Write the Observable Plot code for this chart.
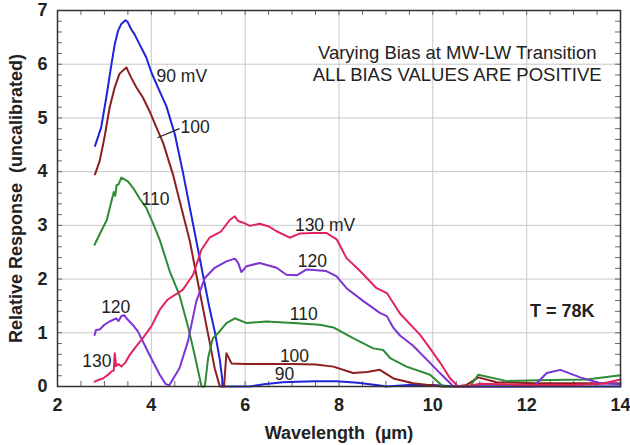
<!DOCTYPE html>
<html><head><meta charset="utf-8">
<script src="https://cdn.jsdelivr.net/npm/d3@7"></script>
<script src="https://cdn.jsdelivr.net/npm/@observablehq/plot@0.6"></script>
<style>body{margin:0;background:#fff} svg{display:block}</style>
</head><body><div id="chart"></div>
<script>
// ---- data ----
const biasNames = ["90", "100", "110", "120", "130"];
const biasColors = ["#2222d8", "#8e1f1f", "#2e8b35", "#7b33d6", "#e3245c"];

const x90 = [2.80,2.93,3.04,3.15,3.22,3.29,3.36,3.45,3.50,3.57,3.64,3.75,3.89,4.00,4.14,4.32,4.50,4.67,4.82,4.96,5.10,5.24,5.35,5.46,5.53,5.90,6.10,6.40,6.80,7.10,7.50,7.95,8.40,8.87,9.00,9.50,10.00,10.50,11.00,12.00,13.00,14.00];
const y90 = [4.48,4.82,5.38,6.00,6.37,6.62,6.75,6.82,6.78,6.65,6.56,6.37,6.13,5.85,5.57,5.22,4.70,4.00,3.33,2.71,2.08,1.46,1.03,0.50,0.00,0.00,0.00,0.04,0.08,0.09,0.10,0.10,0.07,0.02,0.00,0.03,0.03,0.00,0.00,0.00,0.00,0.00];

const x100 = [2.80,2.90,3.00,3.11,3.22,3.32,3.43,3.47,3.50,3.57,3.68,3.82,3.96,4.11,4.25,4.46,4.64,4.82,4.96,5.10,5.24,5.35,5.46,5.55,5.60,5.71,6.00,6.50,7.00,7.50,7.88,8.30,8.60,8.87,9.16,9.58,9.90,10.20,10.50,10.72,10.97,11.36,12.15,13.00,14.00];
const y100 = [3.95,4.20,4.63,5.19,5.57,5.82,5.91,5.94,5.88,5.75,5.57,5.38,5.13,4.82,4.54,3.95,3.33,2.71,2.08,1.46,0.84,0.34,0.00,0.00,0.62,0.43,0.42,0.42,0.42,0.41,0.37,0.25,0.27,0.31,0.15,0.06,0.03,0.00,0.00,0.03,0.17,0.08,0.06,0.06,0.06];

const x110 = [2.79,2.93,3.05,3.15,3.20,3.23,3.26,3.30,3.36,3.42,3.50,3.61,3.75,3.89,4.03,4.18,4.39,4.60,4.78,4.92,5.07,5.14,5.21,5.31,5.42,5.60,5.78,6.03,6.45,7.02,7.59,7.88,8.30,8.73,8.94,9.09,9.44,9.94,10.22,10.79,10.97,11.58,12.50,13.28,14.00];
const y110 = [2.64,2.89,3.10,3.45,3.62,3.55,3.75,3.76,3.89,3.86,3.82,3.70,3.50,3.33,3.05,2.73,2.15,1.70,1.12,0.60,0.00,0.00,0.53,0.90,0.99,1.18,1.27,1.18,1.21,1.18,1.15,1.10,0.90,0.71,0.68,0.53,0.37,0.22,0.00,0.00,0.22,0.10,0.12,0.13,0.21];

const x120 = [2.79,2.82,2.90,3.00,3.11,3.25,3.30,3.36,3.42,3.47,3.60,3.71,3.87,4.03,4.18,4.30,4.38,4.60,4.78,4.96,5.14,5.35,5.60,5.78,5.85,5.92,6.03,6.31,6.67,6.88,7.10,7.31,7.73,7.95,8.16,8.52,8.87,9.02,9.16,9.30,9.58,9.94,10.15,10.44,12.14,12.43,12.72,13.14,13.57,14.00];
const y120 = [0.96,1.05,1.06,1.15,1.21,1.27,1.22,1.31,1.33,1.27,1.15,1.03,0.75,0.47,0.22,0.05,0.02,0.34,0.84,1.59,2.02,2.21,2.33,2.38,2.30,2.13,2.24,2.30,2.21,2.08,2.07,2.18,2.15,2.05,1.83,1.59,1.37,1.31,1.09,0.95,0.76,0.44,0.25,0.00,0.00,0.25,0.31,0.17,0.06,0.04];

const x130 = [2.79,2.90,2.97,3.08,3.15,3.20,3.22,3.25,3.30,3.36,3.45,3.54,3.68,3.82,4.00,4.18,4.35,4.53,4.67,4.89,5.07,5.24,5.49,5.67,5.78,5.85,5.96,6.10,6.31,6.50,6.67,6.95,7.17,7.45,7.73,7.95,8.16,8.45,8.80,9.02,9.30,9.73,9.94,10.15,10.37,10.54,10.72,11.00,11.50,12.00,13.00,13.60,14.00];
const y130 = [0.09,0.13,0.15,0.22,0.28,0.30,0.62,0.38,0.42,0.37,0.45,0.59,0.75,0.90,1.12,1.43,1.62,1.72,1.80,2.08,2.55,2.77,2.89,3.10,3.17,3.08,3.05,2.99,3.03,2.98,2.89,2.77,2.85,2.86,2.86,2.74,2.39,2.15,1.83,1.74,1.36,0.96,0.71,0.45,0.15,0.00,0.00,0.05,0.04,0.03,0.03,0.05,0.13];

const xTicks = [2, 4, 6, 8, 10, 12, 14];
const yTicks = [0, 1, 2, 3, 4, 5, 6, 7];

const curveLabels = ["90 mV", "100", "110", "120", "130", "130 mV", "120", "110", "100", "90"];
const curveLabelX = [4.11, 4.62, 3.79, 2.93, 2.53, 7.06, 7.12, 6.95, 6.74, 6.63];
const curveLabelY = [5.78, 4.83, 3.49, 1.47, 0.47, 3.00, 2.32, 1.34, 0.56, 0.22];

const leaderX = [4.13, 4.60];
const leaderY = [4.63, 4.80];

const noteLines = ["Varying Bias at MW-LW Transition", "ALL BIAS VALUES ARE POSITIVE"];
const noteX = [10.52, 10.52];
const noteY = [6.21, 5.80];
const tempNote = "T = 78K";

// ---- build ----
const seriesX = [x90, x100, x110, x120, x130];
const seriesY = [y90, y100, y110, y120, y130];
const rows = biasNames.flatMap((b, k) => seriesX[k].map((x, i) => ({bias: b, x, y: seriesY[k][i]})));
const labelRows = curveLabels.map((t, i) => ({t, x: curveLabelX[i], y: curveLabelY[i]}));
const noteRows = noteLines.map((t, i) => ({t, x: noteX[i], y: noteY[i]}));

const W = 630, H = 445, mL = 57, mT = 10, mR = 10, mB = 59;
const innerW = W - mL - mR, innerH = H - mT - mB;
const minorX = d3.range(2, 14.001, 0.5);
const minorY = d3.range(0, 7.001, 0.2);
const font = "'Liberation Sans', Arial, sans-serif";

const chart = Plot.plot({
  width: W, height: H,
  marginLeft: mL, marginTop: mT, marginRight: mR, marginBottom: mB,
  style: {fontFamily: font, fontSize: "18px", fontWeight: "bold", background: "#fff", color: "#222"},
  x: {domain: [2, 14]},
  y: {domain: [0, 7]},
  color: {domain: biasNames, range: biasColors},
  marks: [
    Plot.ruleX(xTicks.slice(1, -1), {stroke: "#c8c8c8", strokeWidth: 1}),
    Plot.ruleY(yTicks.slice(1, -1), {stroke: "#c8c8c8", strokeWidth: 1}),
    Plot.tickX(minorX, {x: d => d, insetTop: innerH - 5, stroke: "#666"}),
    Plot.tickX(minorX, {x: d => d, insetBottom: innerH - 5, stroke: "#666"}),
    Plot.tickY(minorY, {y: d => d, insetRight: innerW - 5, stroke: "#666"}),
    Plot.tickY(minorY, {y: d => d, insetLeft: innerW - 5, stroke: "#666"}),
    Plot.line(rows, {x: "x", y: "y", z: "bias", stroke: "bias", strokeWidth: 2, curve: "linear"}),
    Plot.link([0], {x1: () => leaderX[0], y1: () => leaderY[0], x2: () => leaderX[1], y2: () => leaderY[1], stroke: "#222", strokeWidth: 1.2}),
    Plot.text(labelRows, {x: "x", y: "y", text: "t", textAnchor: "start", fontSize: 17.5, fontWeight: "normal", fill: "#222"}),
    Plot.text(noteRows, {x: "x", y: "y", text: "t", textAnchor: "middle", fontSize: 18.5, fontWeight: "normal", fill: "#222"}),
    Plot.text([tempNote], {x: () => 12.76, y: () => 1.40, text: d => d, textAnchor: "middle", fontSize: 18, fontWeight: "bold", fill: "#222"}),
    Plot.frame({stroke: "#333", strokeWidth: 1.5}),
    Plot.axisX({ticks: xTicks, tickSize: 0, tickPadding: 12, tickFormat: d => String(d), label: "Wavelength  (µm)", labelAnchor: "center", labelOffset: 52, labelArrow: "none"}),
    Plot.axisY({ticks: yTicks, tickSize: 0, tickPadding: 10, tickFormat: d => String(d), label: "Relative Response  (uncalibrated)", labelAnchor: "center", labelOffset: 48, labelArrow: "none"})
  ]
});
document.getElementById("chart").appendChild(chart);
</script>
</body></html>
